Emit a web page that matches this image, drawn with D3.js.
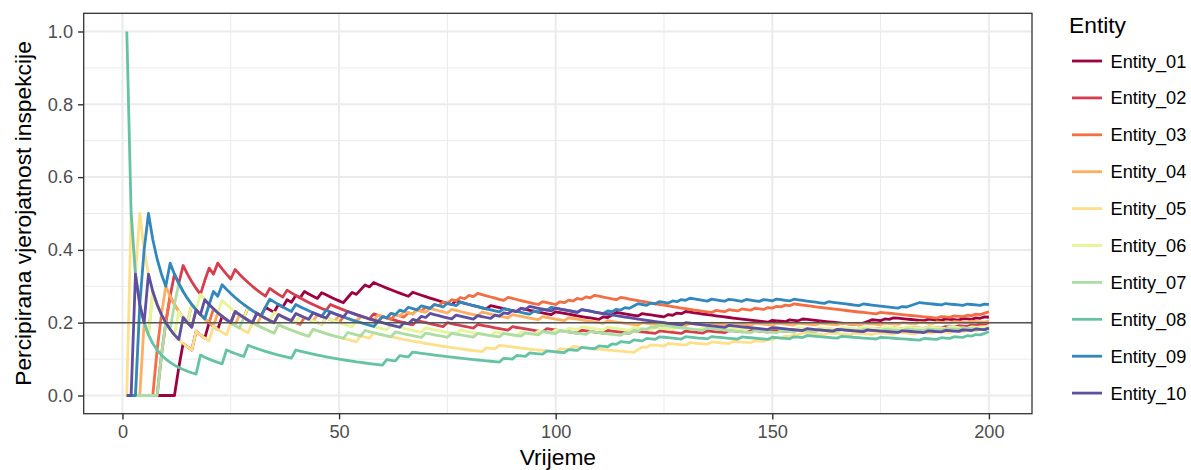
<!DOCTYPE html>
<html>
<head>
<meta charset="utf-8">
<script src="https://cdn.jsdelivr.net/npm/d3@7"></script>
<style>
  body { margin: 0; background: #fff; }
  svg { display: block; }
  text { font-family: "Liberation Sans", Arial, sans-serif; }
</style>
</head>
<body>
<svg id="chart" width="1191" height="470"></svg>
<script>
// Entities and the time steps at which each one was inspected
const entities = ["Entity_01", "Entity_02", "Entity_03", "Entity_04", "Entity_05",
                  "Entity_06", "Entity_07", "Entity_08", "Entity_09", "Entity_10"];
const colors = ["#9E0142", "#D53E4F", "#F46D43", "#FDAE61", "#FEE08B",
                "#E6F598", "#ABDDA4", "#66C2A5", "#3288BD", "#5E4FA2"];

const insp01 = [13, 14, 17, 20, 23, 26, 29, 33, 36, 38, 40, 42, 46, 52, 53, 55, 56, 58, 67, 77, 85, 92, 100,
                111, 113, 114, 120, 126, 128, 130, 150, 154, 157, 171, 172, 173, 176, 178, 186, 190, 194, 197, 199];
const insp02 = [9, 10, 11, 12, 14, 19, 20, 22, 26, 34, 38, 48, 58, 68, 75, 82, 90, 98, 106, 112, 118, 124, 130,
                135, 140, 144, 150, 155, 160, 165, 170, 174, 178, 182, 186, 190, 193, 196, 198, 200];
const insp03 = [8, 9, 11, 16, 21, 26, 31, 36, 42, 47, 51, 55, 60, 63, 66, 68, 70, 72, 74, 76, 78, 80, 82, 89, 97,
                101, 103, 105, 107, 109, 115, 137, 140, 143, 146, 149, 151, 153, 155, 175, 189, 192, 195, 197, 199, 200];
const insp04 = [5, 7, 10, 17, 22, 27, 32, 36, 40, 45, 50, 55, 59, 62, 65, 68, 71, 76, 83, 90, 97, 103, 112, 120,
                126, 131, 136, 141, 146, 151, 156, 161, 166, 171, 176, 180, 184, 188, 192, 196, 200];
const insp05 = [2, 4, 17, 21, 25, 30, 36, 44, 55, 58, 84, 87, 101, 104, 119, 120, 122, 126, 131, 136, 141, 146,
                149, 151, 153, 155, 157, 163, 169, 174, 179, 184, 188, 192, 195, 198, 200];
const insp06 = [4, 7, 13, 16, 18, 23, 29, 35, 41, 47, 54, 62, 70, 78, 86, 92, 96, 100, 103, 106, 112, 118, 123,
                128, 134, 139, 145, 150, 156, 161, 166, 171, 176, 181, 186, 191, 196, 200];
const insp07 = [9, 10, 12, 13, 20, 28, 36, 44, 52, 56, 63, 70, 76, 82, 88, 93, 97, 101, 108, 116, 118, 120, 122,
                124, 135, 146, 152, 156, 161, 166, 171, 176, 181, 186, 190, 194, 200];
const insp08 = [1, 18, 24, 29, 40, 61, 64, 67, 88, 91, 94, 98, 103, 106, 110, 113, 115, 118, 121, 124, 130, 136,
                143, 150, 155, 158, 166, 175, 185, 189, 192, 195, 197, 199, 200];
const insp09 = [4, 5, 6, 11, 20, 21, 23, 33, 34, 40, 47, 59, 60, 62, 64, 66, 69, 72, 75, 78, 88, 95, 97, 99, 106,
                112, 114, 116, 118, 119, 122, 124, 127, 129, 131, 136, 140, 144, 148, 151, 155, 163, 171, 180,
                182, 183, 184, 190, 195, 199];
const insp10 = [3, 6, 14, 17, 19, 26, 31, 36, 40, 44, 48, 52, 65, 67, 69, 71, 77, 82, 86, 88, 90, 92, 94, 100,
                106, 130, 140, 150, 158, 165, 172, 180, 186, 190, 194, 197, 200];

const inspections = [insp01, insp02, insp03, insp04, insp05, insp06, insp07, insp08, insp09, insp10];
const timeSteps = d3.range(1, 201);

const xTicks = [0, 50, 100, 150, 200];
const xMinor = [25, 75, 125, 175];
const yTicks = [0, 0.2, 0.4, 0.6, 0.8, 1.0];
const yMinor = [0.1, 0.3, 0.5, 0.7, 0.9];
const baseRate = 0.2;

// perceived probability = inspections so far / elapsed time
const series = entities.map((name, i) => {
  let count = 0;
  const hits = new Set(inspections[i]);
  return {
    name,
    color: colors[i],
    values: timeSteps.map(t => {
      if (hits.has(t)) count++;
      return {t, p: count / t};
    })
  };
});

const svg = d3.select("#chart");
const panel = {left: 83.7, right: 1032, top: 13.3, bottom: 413.7};

const x = d3.scaleLinear().domain([-8.95, 209.95]).range([panel.left, panel.right]);
const y = d3.scaleLinear().domain([-0.05, 1.05]).range([panel.bottom, panel.top]);

// grid
const grid = svg.append("g");
grid.selectAll(".vminor").data(xMinor).enter().append("line")
  .attr("x1", d => x(d)).attr("x2", d => x(d))
  .attr("y1", panel.top).attr("y2", panel.bottom)
  .attr("stroke", "#EBEBEB").attr("stroke-width", 1);
grid.selectAll(".hminor").data(yMinor).enter().append("line")
  .attr("y1", d => y(d)).attr("y2", d => y(d))
  .attr("x1", panel.left).attr("x2", panel.right)
  .attr("stroke", "#EBEBEB").attr("stroke-width", 1);
grid.selectAll(".vmajor").data(xTicks).enter().append("line")
  .attr("x1", d => x(d)).attr("x2", d => x(d))
  .attr("y1", panel.top).attr("y2", panel.bottom)
  .attr("stroke", "#EBEBEB").attr("stroke-width", 2);
grid.selectAll(".hmajor").data(yTicks).enter().append("line")
  .attr("y1", d => y(d)).attr("y2", d => y(d))
  .attr("x1", panel.left).attr("x2", panel.right)
  .attr("stroke", "#EBEBEB").attr("stroke-width", 2);

// lines
const line = d3.line().x(d => x(d.t)).y(d => y(d.p));
svg.append("g").selectAll("path")
  .data(series)
  .enter()
  .append("path")
  .attr("d", d => line(d.values))
  .attr("fill", "none")
  .attr("stroke", d => d.color)
  .attr("stroke-width", 2.8)
  .attr("stroke-linejoin", "round");

// reference line
svg.append("line")
  .attr("x1", panel.left).attr("x2", panel.right)
  .attr("y1", y(baseRate)).attr("y2", y(baseRate))
  .attr("stroke", "#555").attr("stroke-width", 1.6);

// panel border
svg.append("rect")
  .attr("x", panel.left).attr("y", panel.top)
  .attr("width", panel.right - panel.left).attr("height", panel.bottom - panel.top)
  .attr("fill", "none").attr("stroke", "#333").attr("stroke-width", 1.3);

// axes
const xAxis = svg.append("g")
  .attr("transform", `translate(0,${panel.bottom})`)
  .call(d3.axisBottom(x).tickValues(xTicks).tickSize(5.7).tickPadding(6).tickFormat(d3.format("d")));
const yAxis = svg.append("g")
  .attr("transform", `translate(${panel.left},0)`)
  .call(d3.axisLeft(y).tickValues(yTicks).tickSize(5.7).tickPadding(5).tickFormat(d3.format(".1f")));
[xAxis, yAxis].forEach(a => {
  a.select(".domain").remove();
  a.selectAll(".tick line").attr("stroke", "#333").attr("stroke-width", 1.4);
  a.selectAll(".tick text").attr("fill", "#4D4D4D")
    .style("font-size", "18.2px").style("font-family", "'Liberation Sans', Arial, sans-serif");
});

// axis titles
svg.append("text")
  .attr("x", (panel.left + panel.right) / 2).attr("y", 464.5)
  .attr("text-anchor", "middle").style("font-size", "22.8px").attr("fill", "#000")
  .text("Vrijeme");
svg.append("text")
  .attr("transform", `translate(31,${(panel.top + panel.bottom) / 2}) rotate(-90)`)
  .attr("text-anchor", "middle").style("font-size", "22.8px").attr("fill", "#000")
  .text("Percipirana vjerojatnost inspekcije");

// legend
const legend = svg.append("g");
legend.append("text")
  .attr("x", 1069).attr("y", 33)
  .style("font-size", "22.8px").attr("fill", "#000")
  .text("Entity");
const items = legend.selectAll(".item").data(series).enter().append("g")
  .attr("transform", (d, i) => `translate(0,${61 + i * 36.9})`);
items.append("line")
  .attr("x1", 1072).attr("x2", 1102).attr("y1", 0).attr("y2", 0)
  .attr("stroke", d => d.color).attr("stroke-width", 2.8);
items.append("text")
  .attr("x", 1110.5).attr("y", 6.5)
  .style("font-size", "18.2px").attr("fill", "#000")
  .text(d => d.name);
</script>
</body>
</html>
